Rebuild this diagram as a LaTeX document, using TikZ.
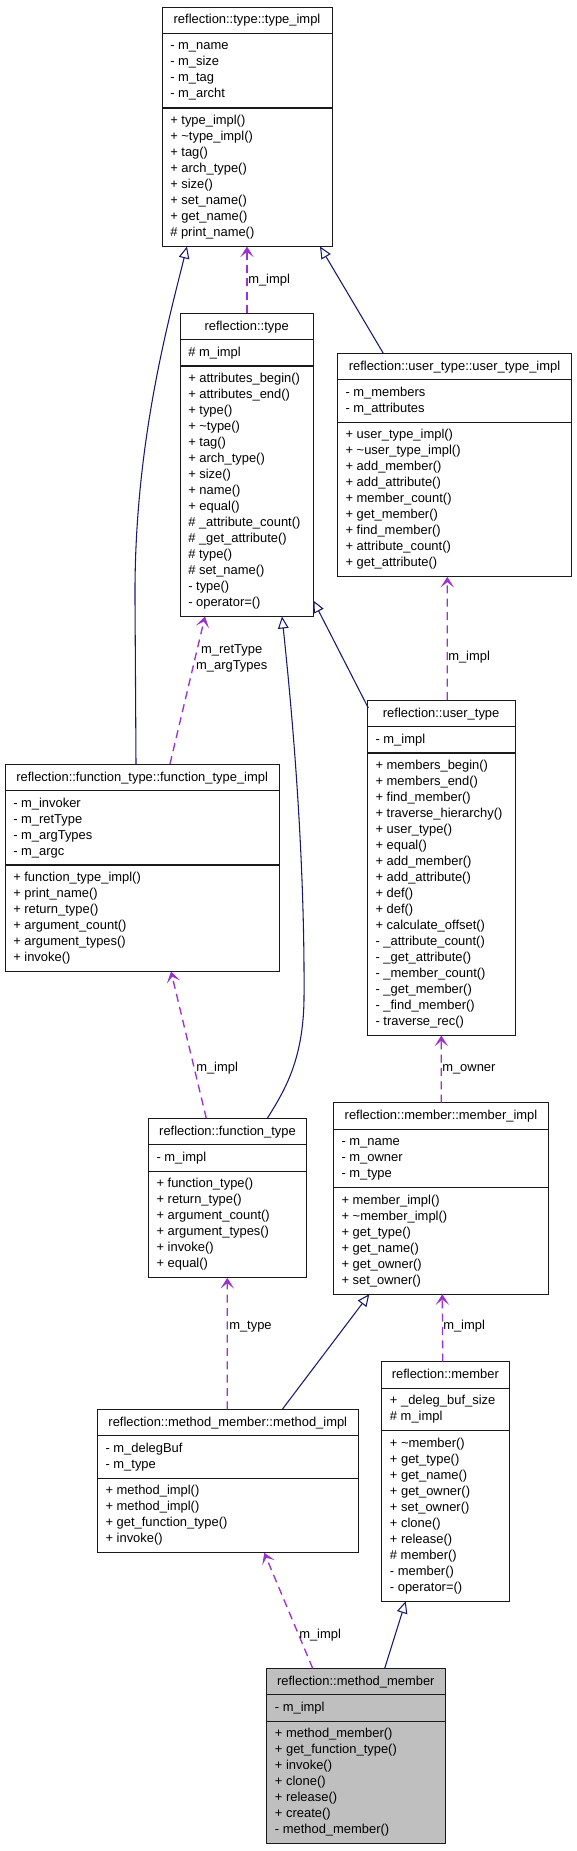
\documentclass[tikz,border=0pt]{standalone}
\usepackage{fontspec}
\setmainfont{Liberation Sans}
\usetikzlibrary{arrows.meta,calc}
\definecolor{navyc}{HTML}{191970}
\definecolor{purp}{HTML}{9A32CD}
\definecolor{mmgray}{HTML}{BFBFBF}
\definecolor{bordc}{HTML}{1A1A1A}
\tikzset{
  clsbox/.style={draw=bordc, line width=0.7pt, inner sep=0pt, outer sep=0pt, rectangle},
  clsdiv/.style={draw=bordc, line width=0.8pt},
  clstext/.style={inner sep=0pt, font=\fontsize{9.7}{12}\selectfont, text=black},
  inhedge/.style={draw=navyc, line width=0.8pt, -{Triangle[fill=white, length=9pt, width=8pt]}},
  usedge/.style={draw=purp, line width=1pt, dash pattern=on 6pt off 4pt, -{Stealth[length=8pt, width=10pt, inset=4pt]}},
  elabel/.style={inner sep=0pt, anchor=west, font=\fontsize{9.7}{12}\selectfont},
}
\def\clsfill{white}
% #1 name, #2 left, #3 right, #4 top, #5 n attrs, #6 n ops, #7 title, #8 attrs, #9 ops
\newcommand\umlclass[9]{%
  \pgfmathsetmacro\ya{#4+26.5}%
  \pgfmathsetmacro\yb{#4+37+16*#5}%
  \pgfmathsetmacro\yc{#4+47.5+16*#5+16*#6}%
  \pgfmathsetmacro\xm{(#2+#3)/2}%
  \pgfmathsetmacro\ym{(#4+\yc)/2}%
  \pgfmathsetmacro\bw{(#3-#2)*0.75}%
  \pgfmathsetmacro\bh{(\yc-#4)*0.75}%
  \node[clsbox, fill=\clsfill, minimum width=\bw pt, minimum height=\bh pt] (#1) at (\xm,\ym) {};
  \draw[clsdiv] (#2,\ya) -- (#3,\ya) (#2,\yb) -- (#3,\yb);
  \node[clstext, anchor=base] (#1-title) at (\xm,#4+17) {#7};
  \node[clstext, anchor=base west] (#1-attr) at (#2+8,\ya+16.5) {\begin{tabular}[t]{@{}l@{}}#8\end{tabular}};
  \node[clstext, anchor=base west] (#1-ops) at (#2+8,\yb+16.5) {\begin{tabular}[t]{@{}l@{}}#9\end{tabular}};
}
\begin{document}
\begin{tikzpicture}[x=0.75pt, y=-0.75pt]
\useasboundingbox[fill=white] (0,0) rectangle (577,1851);

\umlclass{typeimpl}{162}{332}{7}{4}{8}{reflection::type::type\_impl}
 {- m\_name\\- m\_size\\- m\_tag\\- m\_archt}
 {+ type\_impl()\\+ \textasciitilde type\_impl()\\+ tag()\\+ arch\_type()\\+ size()\\+ set\_name()\\+ get\_name()\\\# print\_name()}

\umlclass{type}{180}{313.3}{313}{1}{15}{reflection::type}
 {\# m\_impl}
 {+ attributes\_begin()\\+ attributes\_end()\\+ type()\\+ \textasciitilde type()\\+ tag()\\+ arch\_type()\\+ size()\\+ name()\\+ equal()\\\# \_attribute\_count()\\\# \_get\_attribute()\\\# type()\\\# set\_name()\\- type()\\- operator=()}

\umlclass{uti}{337.3}{571.7}{353.3}{2}{9}{reflection::user\_type::user\_type\_impl}
 {- m\_members\\- m\_attributes}
 {+ user\_type\_impl()\\+ \textasciitilde user\_type\_impl()\\+ add\_member()\\+ add\_attribute()\\+ member\_count()\\+ get\_member()\\+ find\_member()\\+ attribute\_count()\\+ get\_attribute()}

\umlclass{fti}{5}{279.3}{764}{4}{6}{reflection::function\_type::function\_type\_impl}
 {- m\_invoker\\- m\_retType\\- m\_argTypes\\- m\_argc}
 {+ function\_type\_impl()\\+ print\_name()\\+ return\_type()\\+ argument\_count()\\+ argument\_types()\\+ invoke()}

\umlclass{ut}{367.3}{515}{700}{1}{17}{reflection::user\_type}
 {- m\_impl}
 {+ members\_begin()\\+ members\_end()\\+ find\_member()\\+ traverse\_hierarchy()\\+ user\_type()\\+ equal()\\+ add\_member()\\+ add\_attribute()\\+ def()\\+ def()\\+ calculate\_offset()\\- \_attribute\_count()\\- \_get\_attribute()\\- \_member\_count()\\- \_get\_member()\\- \_find\_member()\\- traverse\_rec()}

\umlclass{ft}{148.3}{306.7}{1118.3}{1}{6}{reflection::function\_type}
 {- m\_impl}
 {+ function\_type()\\+ return\_type()\\+ argument\_count()\\+ argument\_types()\\+ invoke()\\+ equal()}

\umlclass{mi}{333.3}{548.7}{1102.7}{3}{6}{reflection::member::member\_impl}
 {- m\_name\\- m\_owner\\- m\_type}
 {+ member\_impl()\\+ \textasciitilde member\_impl()\\+ get\_type()\\+ get\_name()\\+ get\_owner()\\+ set\_owner()}

\umlclass{mimpl}{97.3}{358.3}{1409.3}{2}{4}{reflection::method\_member::method\_impl}
 {- m\_delegBuf\\- m\_type}
 {+ method\_impl()\\+ method\_impl()\\+ get\_function\_type()\\+ invoke()}

\umlclass{mem}{381.7}{509}{1361.7}{2}{10}{reflection::member}
 {+ \_deleg\_buf\_size\\\# m\_impl}
 {+ \textasciitilde member()\\+ get\_type()\\+ get\_name()\\+ get\_owner()\\+ set\_owner()\\+ clone()\\+ release()\\\# member()\\- member()\\- operator=()}

\def\clsfill{mmgray}
\umlclass{mm}{266.7}{445}{1668.3}{1}{7}{reflection::method\_member}
 {- m\_impl}
 {+ method\_member()\\+ get\_function\_type()\\+ invoke()\\+ clone()\\+ release()\\+ create()\\- method\_member()}

% inheritance edges
\draw[inhedge] ($(fti.north west)+(131,0)$) -- (135,600) .. controls (134,450) and (166,330) .. ($(typeimpl.south west)+(25,0)$);
\draw[inhedge] ($(uti.north west)+(46,0)$) -- ($(typeimpl.south west)+(158,0)$);
\draw[inhedge] ($(ut.north west)+(1,8)$) -- ($(type.south east)+(0,-16)$);
\draw[inhedge] ($(ft.north west)+(119,0)$) .. controls (285,1090) and (303,1060) .. (304,1000) .. controls (305,860) and (293,720) .. ($(type.south west)+(102,0)$);
\draw[inhedge] ($(mimpl.north west)+(185,0)$) -- ($(mi.south west)+(36,0)$);
\draw[inhedge] ($(mm.north west)+(118,0)$) -- ($(mem.south west)+(24,0)$);

% usage edges
\draw[usedge] ($(type.north west)+(67,0)$) -- ($(typeimpl.south west)+(85,0)$);
\draw[usedge] ($(ut.north west)+(80,0)$) -- ($(uti.south west)+(110,0)$);
\draw[usedge] ($(fti.north west)+(165,0)$) -- ($(type.south west)+(25,0)$);
\draw[usedge] ($(ft.north west)+(58,0)$) -- ($(fti.south west)+(166,0)$);
\draw[usedge] ($(mi.north west)+(108,0)$) -- ($(ut.south west)+(74,0)$);
\draw[usedge] ($(mimpl.north west)+(130,0)$) -- ($(ft.south west)+(79,0)$);
\draw[usedge] ($(mem.north west)+(61,0)$) -- ($(mi.south west)+(109,0)$);
\draw[usedge] ($(mm.north west)+(46,0)$) -- ($(mimpl.south west)+(167,0)$);

% edge labels
\node[elabel] (l1) at (248,280) {m\_impl};
\node[elabel] (l2) at (448,657) {m\_impl};
\node[elabel, anchor=center] (l3) at (231.7,658.7) {\begin{tabular}{@{}c@{}}m\_retType\\m\_argTypes\end{tabular}};
\node[elabel] (l4) at (196,1068) {m\_impl};
\node[elabel] (l5) at (442,1069) {m\_owner};
\node[elabel] (l6) at (229,1327) {m\_type};
\node[elabel] (l7) at (443,1326) {m\_impl};
\node[elabel] (l8) at (299,1635) {m\_impl};
\end{tikzpicture}
\end{document}
